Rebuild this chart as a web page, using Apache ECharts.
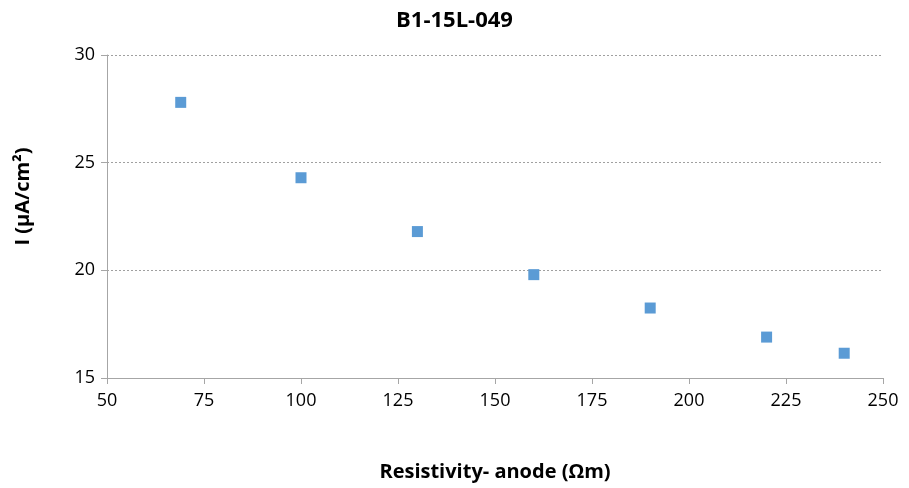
<!DOCTYPE html>
<html><head><meta charset="utf-8">
<script src="https://cdn.jsdelivr.net/npm/echarts@6/dist/echarts.min.js"></script>
<style>html,body{margin:0;padding:0;background:#fff}#c{width:909px;height:488px}</style>
</head><body><div id="c"></div>
<script>
const resistivity = [69, 100, 130, 160, 190, 220, 240];
const current = [27.8, 24.3, 21.8, 19.8, 18.25, 16.9, 16.15];
const chartTitle = 'B1-15L-049';
const xName = 'Resistivity- anode (\u03A9m)';
const yName = 'I (\u00B5A/cm\u00B2)';
const FONT = "'Open Sans', 'Liberation Sans', sans-serif";
const chart = echarts.init(document.getElementById('c'));
chart.setOption({
  animation: false,
  title: {text: chartTitle, left: 'center', top: 5, textStyle: {fontFamily: FONT, fontSize: 22, fontWeight: 'bold', color: '#000'}},
  grid: {left: 107, right: 26, top: 55, bottom: 110},
  xAxis: {
    type: 'value', min: 50, max: 250, interval: 25,
    name: xName, nameLocation: 'middle', nameGap: 84,
    nameTextStyle: {fontFamily: FONT, fontSize: 20, fontWeight: 'bold', color: '#000'},
    axisLine: {lineStyle: {color: '#A6A6A6', width: 1}},
    axisTick: {show: true, length: 6, lineStyle: {color: '#A6A6A6'}},
    axisLabel: {fontFamily: FONT, fontSize: 18, color: '#000', margin: 14},
    splitLine: {show: false}
  },
  yAxis: {
    type: 'value', min: 15, max: 30, interval: 5,
    name: yName, nameLocation: 'middle', nameGap: 74, nameRotate: 90,
    nameTextStyle: {fontFamily: FONT, fontSize: 20, fontWeight: 'bold', color: '#000', padding: [0, 0, 0, 40]},
    axisLine: {show: true, lineStyle: {color: '#A6A6A6', width: 1}},
    axisTick: {show: true, length: 6, lineStyle: {color: '#A6A6A6'}},
    axisLabel: {fontFamily: FONT, fontSize: 18, color: '#000', margin: 12},
    splitLine: {show: true, lineStyle: {color: '#A0A0A0', type: [2, 2], width: 1}}
  },
  series: [{
    type: 'scatter', symbol: 'rect', symbolSize: 11,
    itemStyle: {color: '#5B9BD5', opacity: 1},
    data: resistivity.map((x, i) => [x, current[i]])
  }]
});
</script></body></html>
